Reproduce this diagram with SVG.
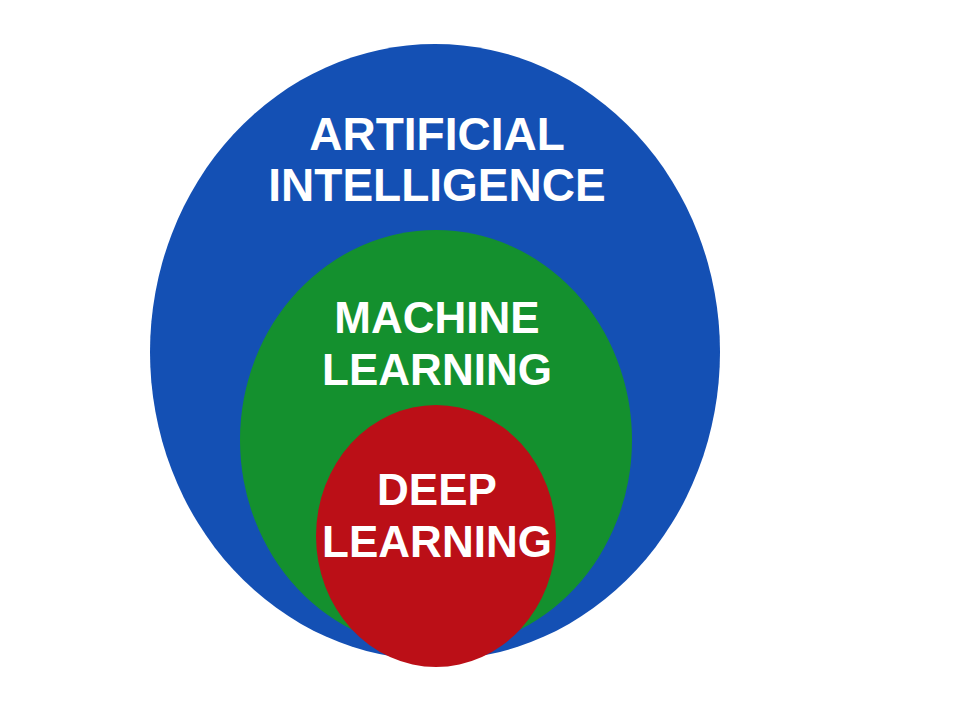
<svg xmlns="http://www.w3.org/2000/svg" width="960" height="720" viewBox="0 0 960 720">
<style>
text{font-family:"Liberation Sans",Arial,sans-serif;font-weight:bold;fill:#fff;text-anchor:middle}
.t1{font-size:46px}
.t2{font-size:44px}
</style>
<rect width="960" height="720" fill="#fff"/>
<g id="ai">
<ellipse cx="435" cy="352" rx="285" ry="308" fill="#1450b4"/>
<text class="t1" x="437" y="150">ARTIFICIAL</text>
<text class="t1" x="437" y="201">INTELLIGENCE</text>
</g>
<g id="ml">
<ellipse cx="436" cy="440" rx="196" ry="210" fill="#14902e"/>
<text class="t2" x="437" y="333">MACHINE</text>
<text class="t2" x="437" y="385">LEARNING</text>
</g>
<g id="dl">
<ellipse cx="436" cy="536" rx="120" ry="131" fill="#bb0f17"/>
<text class="t2" x="437" y="505">DEEP</text>
<text class="t2" x="437" y="557">LEARNING</text>
</g>
<g id="connectors"/>
</svg>
